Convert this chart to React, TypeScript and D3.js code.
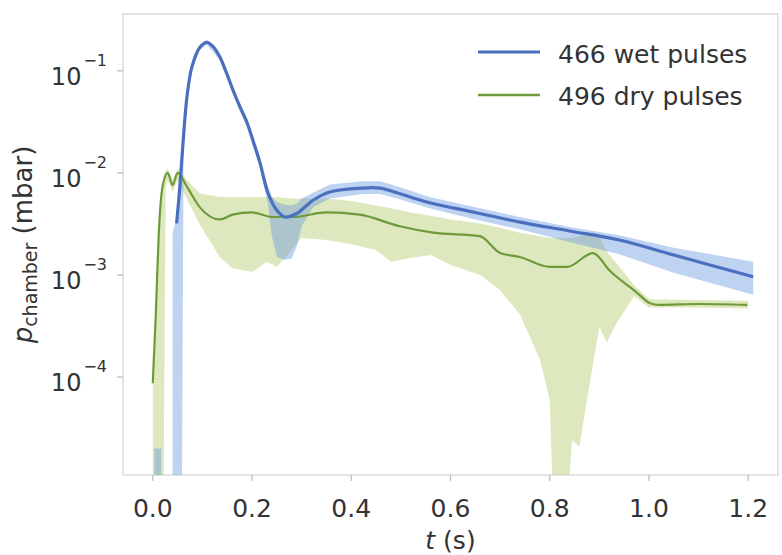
import * as React from 'react';
import * as d3 from 'd3';

// wet pulses: mean pressure (mbar) vs time (s)
const wetT = [0.048, 0.054, 0.06, 0.069, 0.079, 0.095, 0.109, 0.122, 0.135, 0.148, 0.161, 0.175, 0.19, 0.203, 0.216, 0.232, 0.25, 0.266, 0.29, 0.323, 0.357, 0.423, 0.458, 0.492, 0.558, 0.65, 0.74, 0.84, 0.94, 1.05, 1.21];
const wetP = [3.2e-3, 6.8e-3, 1.7e-2, 5.6e-2, 0.11, 0.17, 0.19, 0.172, 0.137, 0.097, 0.066, 0.045, 0.031, 0.02, 0.0126, 6.4e-3, 4.3e-3, 3.7e-3, 4.0e-3, 5.4e-3, 6.5e-3, 7.1e-3, 7.1e-3, 6.4e-3, 5.1e-3, 4.1e-3, 3.3e-3, 2.7e-3, 2.2e-3, 1.57e-3, 9.6e-4];

// wet pulses: spread band (null = gap)
const wetBandT = [0.003, 0.017, 0.028, 0.04, 0.048, 0.054, 0.059, 0.062, 0.069, 0.079, 0.095, 0.109, 0.135, 0.161, 0.19, 0.216, 0.232, 0.24, 0.25, 0.265, 0.28, 0.29, 0.3, 0.323, 0.357, 0.423, 0.458, 0.492, 0.558, 0.65, 0.74, 0.84, 0.94, 1.05, 1.21];
const wetBandLo = [1e-7, 1e-7, null, 1e-7, 1e-7, 1e-7, 1e-7, 1.6e-2, 5.1e-2, 0.102, 0.16, 0.18, 0.128, 0.06, 0.028, 0.0112, 5.0e-3, 2.4e-3, 1.5e-3, 1.4e-3, 1.45e-3, 1.9e-3, 3.0e-3, 4.6e-3, 5.6e-3, 6.2e-3, 6.2e-3, 5.6e-3, 4.5e-3, 3.5e-3, 2.8e-3, 2.1e-3, 1.6e-3, 1.05e-3, 6.4e-4];
const wetBandHi = [2e-5, 2e-5, null, 2.6e-3, 3.6e-3, 8e-3, 1.6e-2, 2.4e-2, 6.1e-2, 0.118, 0.18, 0.2, 0.146, 0.07, 0.034, 0.014, 7.4e-3, 5.8e-3, 5.2e-3, 4.9e-3, 4.8e-3, 5.0e-3, 5.6e-3, 6.4e-3, 7.7e-3, 8.3e-3, 8.3e-3, 7.4e-3, 5.8e-3, 4.6e-3, 3.7e-3, 2.95e-3, 2.45e-3, 1.85e-3, 1.35e-3];

// dry pulses: mean pressure
const dryT = [0, 0.006, 0.012, 0.02, 0.03, 0.04, 0.05, 0.069, 0.095, 0.135, 0.161, 0.2, 0.242, 0.282, 0.35, 0.417, 0.498, 0.565, 0.659, 0.7, 0.74, 0.8, 0.835, 0.887, 0.921, 0.976, 1.002, 1.02, 1.1, 1.198];
const dryP = [8.7e-5, 4e-4, 2.5e-3, 7.5e-3, 1.0e-2, 7.6e-3, 1.0e-2, 7.3e-3, 4.6e-3, 3.5e-3, 3.9e-3, 4.1e-3, 3.7e-3, 3.7e-3, 4.1e-3, 3.9e-3, 3.0e-3, 2.6e-3, 2.4e-3, 1.64e-3, 1.5e-3, 1.2e-3, 1.2e-3, 1.64e-3, 1.1e-3, 6.7e-4, 5.3e-4, 5.1e-4, 5.2e-4, 5.1e-4];

// dry pulses: spread band
const dryBandT = [0, 0.012, 0.022, 0.026, 0.03, 0.04, 0.05, 0.069, 0.095, 0.135, 0.16, 0.2, 0.23, 0.25, 0.28, 0.3, 0.35, 0.4, 0.45, 0.48, 0.52, 0.56, 0.6, 0.66, 0.7, 0.74, 0.78, 0.8, 0.805, 0.84, 0.845, 0.86, 0.875, 0.9, 0.915, 0.935, 0.97, 1.0, 1.1, 1.2];
const dryBandLo = [1e-7, 1e-7, 1e-7, 7e-3, 8.5e-3, 6.5e-3, 8.5e-3, 5.5e-3, 3.1e-3, 1.5e-3, 1.17e-3, 1.07e-3, 1.35e-3, 1.2e-3, 1.76e-3, 2.3e-3, 2.2e-3, 2.0e-3, 1.76e-3, 1.35e-3, 1.47e-3, 1.57e-3, 1.25e-3, 1.0e-3, 7.1e-4, 4.1e-4, 1.5e-4, 6e-5, 1e-7, 1e-7, 2.4e-5, 2.1e-5, 6e-5, 3.1e-4, 2.2e-4, 3.4e-4, 6.2e-4, 4.8e-4, 4.8e-4, 4.7e-4];
const dryBandHi = [1e-4, 3e-3, 9e-3, 1.05e-2, 1.1e-2, 8.5e-3, 1.1e-2, 8.5e-3, 6.3e-3, 5.8e-3, 5.8e-3, 5.8e-3, 5.8e-3, 5.8e-3, 5.6e-3, 5.6e-3, 5.6e-3, 5.3e-3, 4.8e-3, 4.5e-3, 4.1e-3, 3.8e-3, 3.5e-3, 3.2e-3, 2.9e-3, 2.6e-3, 2.4e-3, 2.3e-3, 2.3e-3, 2.3e-3, 2.3e-3, 2.4e-3, 2.5e-3, 2.4e-3, 1.7e-3, 1.3e-3, 8e-4, 5.8e-4, 5.7e-4, 5.6e-4];

const xTicks = [0, 0.2, 0.4, 0.6, 0.8, 1.0, 1.2];
const yTicks = [1e-4, 1e-3, 1e-2, 1e-1];
const legendLabels = ['466 wet pulses', '496 dry pulses'];

const WET = '#4a6fbf';
const WET_FILL = '#6f9be0';
const DRY = '#6f9a3a';
const DRY_FILL = '#b5cc6e';
const FONT = '"DejaVu Sans", sans-serif';
const TEXT = '#333';

const W = 782;
const H = 555;
const plot = { left: 123, right: 778, top: 14, bottom: 475 };

export default function App() {
  const x = d3.scaleLinear().domain([-0.06, 1.26]).range([plot.left, plot.right]);
  const y = d3.scaleLog().domain([1.1e-5, 0.36]).range([plot.bottom, plot.top]).clamp(true);

  type Pt = { t: number; p: number };
  type Band = { t: number; lo: number | null; hi: number | null };

  const wet: Pt[] = wetT.map((t, i) => ({ t, p: wetP[i] }));
  const dry: Pt[] = dryT.map((t, i) => ({ t, p: dryP[i] }));
  const wetBand: Band[] = wetBandT.map((t, i) => ({ t, lo: wetBandLo[i], hi: wetBandHi[i] }));
  const dryBand: Band[] = dryBandT.map((t, i) => ({ t, lo: dryBandLo[i], hi: dryBandHi[i] }));

  const wetLine = d3.line<Pt>().x(d => x(d.t)).y(d => y(d.p)).curve(d3.curveCatmullRom.alpha(0.5));
  const dryLine = d3.line<Pt>().x(d => x(d.t)).y(d => y(d.p)).curve(d3.curveMonotoneX);
  const area = d3.area<Band>()
    .defined(d => d.lo != null && d.hi != null)
    .x(d => x(d.t))
    .y0(d => y(d.lo as number))
    .y1(d => y(d.hi as number));

  const supLabel = (v: number) => String(Math.round(Math.log10(v))).replace('-', '\u2212');

  return (
    <svg width={W} height={H} style={{ position: 'absolute', left: 0, top: 0, background: '#fff' }}>
      <defs>
        <clipPath id="plotClip">
          <rect x={plot.left} y={plot.top} width={plot.right - plot.left} height={plot.bottom - plot.top} />
        </clipPath>
      </defs>

      <rect x={plot.left} y={plot.top} width={plot.right - plot.left} height={plot.bottom - plot.top}
        fill="#fff" stroke="#dcdcdc" strokeWidth={1.5} />

      <g clipPath="url(#plotClip)">
        <path d={area(dryBand) || ''} fill={DRY_FILL} fillOpacity={0.45} />
        <path d={area(wetBand) || ''} fill={WET_FILL} fillOpacity={0.45} />
        <path d={dryLine(dry) || ''} fill="none" stroke={DRY} strokeWidth={2.2} />
        <path d={wetLine(wet) || ''} fill="none" stroke={WET} strokeWidth={3.2} />
      </g>

      {/* x axis */}
      {xTicks.map(t => (
        <g key={t}>
          <line x1={x(t)} x2={x(t)} y1={plot.bottom} y2={plot.bottom + 6} stroke="#bbb" strokeWidth={1.2} />
          <text x={x(t)} y={517} textAnchor="middle" fontFamily={FONT} fontSize={25} fill={TEXT}>
            {t.toFixed(1)}
          </text>
        </g>
      ))}
      <text x={(plot.left + plot.right) / 2} y={549} textAnchor="middle" fontFamily={FONT} fontSize={25} fill={TEXT}>
        <tspan fontStyle="italic">t</tspan> (s)
      </text>

      {/* y axis */}
      {yTicks.map(v => (
        <g key={v}>
          <line x1={plot.left - 6} x2={plot.left} y1={y(v)} y2={y(v)} stroke="#bbb" strokeWidth={1.2} />
          <text x={107} y={y(v) + 14} textAnchor="end" fontFamily={FONT} fill={TEXT}>
            <tspan fontSize={24}>10</tspan>
            <tspan fontSize={16} dx={2} dy={-19}>{supLabel(v)}</tspan>
          </text>
        </g>
      ))}
      <text transform={`translate(32,${(plot.top + plot.bottom) / 2}) rotate(-90)`} textAnchor="middle"
        fontFamily={FONT} fontSize={26} fill={TEXT}>
        <tspan fontStyle="italic">p</tspan>
        <tspan fontSize={19} dy={5}>chamber</tspan>
        <tspan dy={-5}> (mbar)</tspan>
      </text>

      {/* legend */}
      {legendLabels.map((lab, i) => (
        <g key={lab}>
          <line x1={478} x2={540} y1={52 + i * 43} y2={52 + i * 43} stroke={i === 0 ? WET : DRY} strokeWidth={i === 0 ? 3.2 : 2.6} />
          <text x={558} y={63 + i * 42} fontFamily={FONT} fontSize={25} fill={TEXT}>{lab}</text>
        </g>
      ))}
    </svg>
  );
}
